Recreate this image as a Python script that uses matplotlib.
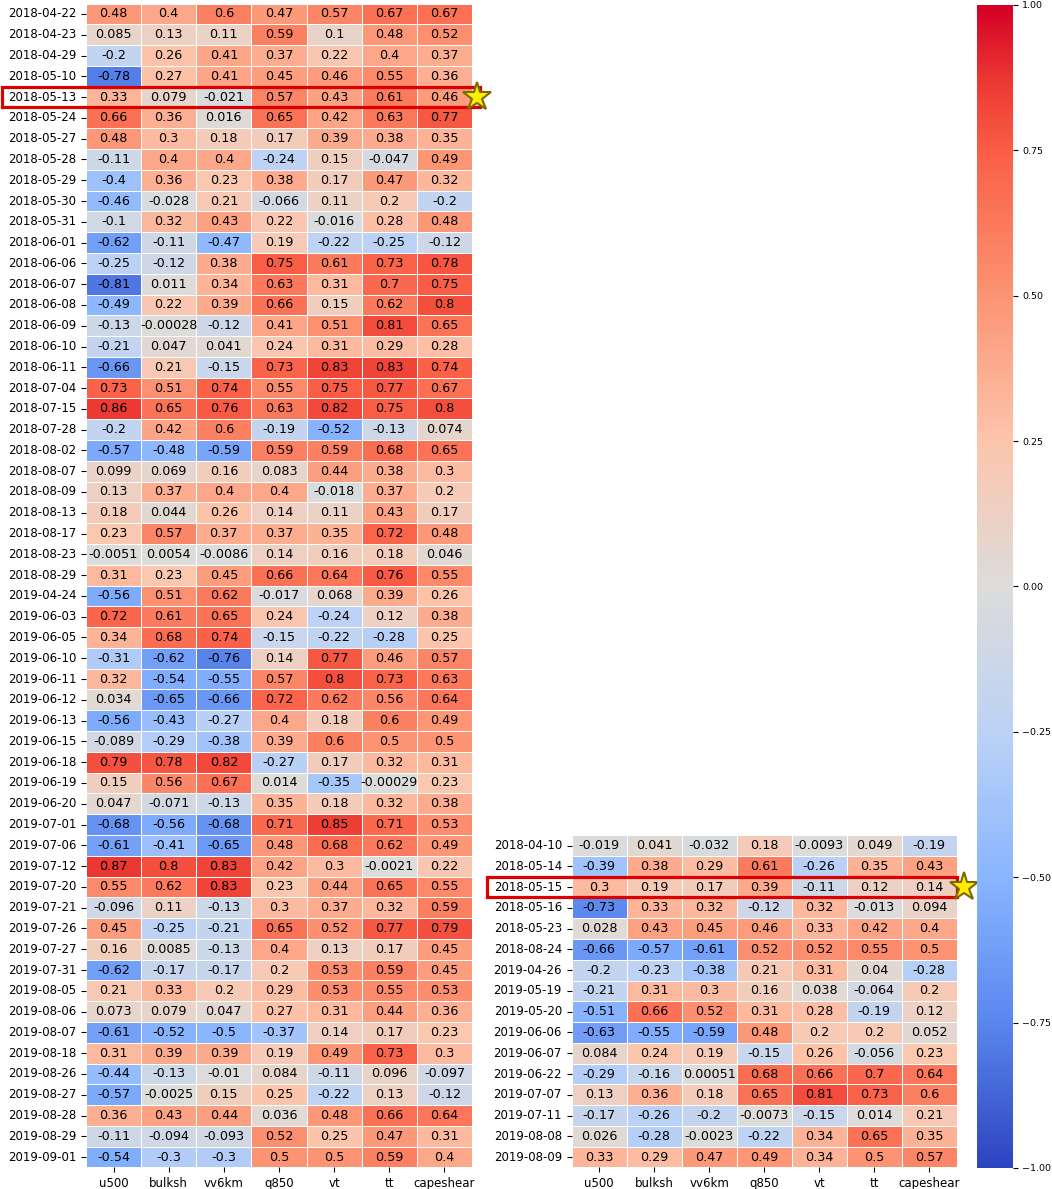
import numpy as np
import matplotlib
matplotlib.use('Agg')
import matplotlib.pyplot as plt
import matplotlib.transforms as mtrans
from matplotlib.patches import Rectangle
from matplotlib.colors import LinearSegmentedColormap
import seaborn as sns

cols = ['u500', 'bulksh', 'vv6km', 'q850', 'vt', 'tt', 'capeshear']

dates_a = ['2018-04-22', '2018-04-23', '2018-04-29', '2018-05-10', '2018-05-13', '2018-05-24',
           '2018-05-27', '2018-05-28', '2018-05-29', '2018-05-30', '2018-05-31', '2018-06-01',
           '2018-06-06', '2018-06-07', '2018-06-08', '2018-06-09', '2018-06-10', '2018-06-11',
           '2018-07-04', '2018-07-15', '2018-07-28', '2018-08-02', '2018-08-07', '2018-08-09',
           '2018-08-13', '2018-08-17', '2018-08-23', '2018-08-29', '2019-04-24', '2019-06-03',
           '2019-06-05', '2019-06-10', '2019-06-11', '2019-06-12', '2019-06-13', '2019-06-15',
           '2019-06-18', '2019-06-19', '2019-06-20', '2019-07-01', '2019-07-06', '2019-07-12',
           '2019-07-20', '2019-07-21', '2019-07-26', '2019-07-27', '2019-07-31', '2019-08-05',
           '2019-08-06', '2019-08-07', '2019-08-18', '2019-08-26', '2019-08-27', '2019-08-28',
           '2019-08-29', '2019-09-01']

corr_a = [
    [0.48, 0.4, 0.6, 0.47, 0.57, 0.67, 0.67],
    [0.085, 0.13, 0.11, 0.59, 0.1, 0.48, 0.52],
    [-0.2, 0.26, 0.41, 0.37, 0.22, 0.4, 0.37],
    [-0.78, 0.27, 0.41, 0.45, 0.46, 0.55, 0.36],
    [0.33, 0.079, -0.021, 0.57, 0.43, 0.61, 0.46],
    [0.66, 0.36, 0.016, 0.65, 0.42, 0.63, 0.77],
    [0.48, 0.3, 0.18, 0.17, 0.39, 0.38, 0.35],
    [-0.11, 0.4, 0.4, -0.24, 0.15, -0.047, 0.49],
    [-0.4, 0.36, 0.23, 0.38, 0.17, 0.47, 0.32],
    [-0.46, -0.028, 0.21, -0.066, 0.11, 0.2, -0.2],
    [-0.1, 0.32, 0.43, 0.22, -0.016, 0.28, 0.48],
    [-0.62, -0.11, -0.47, 0.19, -0.22, -0.25, -0.12],
    [-0.25, -0.12, 0.38, 0.75, 0.61, 0.73, 0.78],
    [-0.81, 0.011, 0.34, 0.63, 0.31, 0.7, 0.75],
    [-0.49, 0.22, 0.39, 0.66, 0.15, 0.62, 0.8],
    [-0.13, -0.00028, -0.12, 0.41, 0.51, 0.81, 0.65],
    [-0.21, 0.047, 0.041, 0.24, 0.31, 0.29, 0.28],
    [-0.66, 0.21, -0.15, 0.73, 0.83, 0.83, 0.74],
    [0.73, 0.51, 0.74, 0.55, 0.75, 0.77, 0.67],
    [0.86, 0.65, 0.76, 0.63, 0.82, 0.75, 0.8],
    [-0.2, 0.42, 0.6, -0.19, -0.52, -0.13, 0.074],
    [-0.57, -0.48, -0.59, 0.59, 0.59, 0.68, 0.65],
    [0.099, 0.069, 0.16, 0.083, 0.44, 0.38, 0.3],
    [0.13, 0.37, 0.4, 0.4, -0.018, 0.37, 0.2],
    [0.18, 0.044, 0.26, 0.14, 0.11, 0.43, 0.17],
    [0.23, 0.57, 0.37, 0.37, 0.35, 0.72, 0.48],
    [-0.0051, 0.0054, -0.0086, 0.14, 0.16, 0.18, 0.046],
    [0.31, 0.23, 0.45, 0.66, 0.64, 0.76, 0.55],
    [-0.56, 0.51, 0.62, -0.017, 0.068, 0.39, 0.26],
    [0.72, 0.61, 0.65, 0.24, -0.24, 0.12, 0.38],
    [0.34, 0.68, 0.74, -0.15, -0.22, -0.28, 0.25],
    [-0.31, -0.62, -0.76, 0.14, 0.77, 0.46, 0.57],
    [0.32, -0.54, -0.55, 0.57, 0.8, 0.73, 0.63],
    [0.034, -0.65, -0.66, 0.72, 0.62, 0.56, 0.64],
    [-0.56, -0.43, -0.27, 0.4, 0.18, 0.6, 0.49],
    [-0.089, -0.29, -0.38, 0.39, 0.6, 0.5, 0.5],
    [0.79, 0.78, 0.82, -0.27, 0.17, 0.32, 0.31],
    [0.15, 0.56, 0.67, 0.014, -0.35, -0.00029, 0.23],
    [0.047, -0.071, -0.13, 0.35, 0.18, 0.32, 0.38],
    [-0.68, -0.56, -0.68, 0.71, 0.85, 0.71, 0.53],
    [-0.61, -0.41, -0.65, 0.48, 0.68, 0.62, 0.49],
    [0.87, 0.8, 0.83, 0.42, 0.3, -0.0021, 0.22],
    [0.55, 0.62, 0.83, 0.23, 0.44, 0.65, 0.55],
    [-0.096, 0.11, -0.13, 0.3, 0.37, 0.32, 0.59],
    [0.45, -0.25, -0.21, 0.65, 0.52, 0.77, 0.79],
    [0.16, 0.0085, -0.13, 0.4, 0.13, 0.17, 0.45],
    [-0.62, -0.17, -0.17, 0.2, 0.53, 0.59, 0.45],
    [0.21, 0.33, 0.2, 0.29, 0.53, 0.55, 0.53],
    [0.073, 0.079, 0.047, 0.27, 0.31, 0.44, 0.36],
    [-0.61, -0.52, -0.5, -0.37, 0.14, 0.17, 0.23],
    [0.31, 0.39, 0.39, 0.19, 0.49, 0.73, 0.3],
    [-0.44, -0.13, -0.01, 0.084, -0.11, 0.096, -0.097],
    [-0.57, -0.0025, 0.15, 0.25, -0.22, 0.13, -0.12],
    [0.36, 0.43, 0.44, 0.036, 0.48, 0.66, 0.64],
    [-0.11, -0.094, -0.093, 0.52, 0.25, 0.47, 0.31],
    [-0.54, -0.3, -0.3, 0.5, 0.5, 0.59, 0.4],
]

dates_b = ['2018-04-10', '2018-05-14', '2018-05-15', '2018-05-16', '2018-05-23', '2018-08-24',
           '2019-04-26', '2019-05-19', '2019-05-20', '2019-06-06', '2019-06-07', '2019-06-22',
           '2019-07-07', '2019-07-11', '2019-08-08', '2019-08-09']

corr_b = [
    [-0.019, 0.041, -0.032, 0.18, -0.0093, 0.049, -0.19],
    [-0.39, 0.38, 0.29, 0.61, -0.26, 0.35, 0.43],
    [0.3, 0.19, 0.17, 0.39, -0.11, 0.12, 0.14],
    [-0.73, 0.33, 0.32, -0.12, 0.32, -0.013, 0.094],
    [0.028, 0.43, 0.45, 0.46, 0.33, 0.42, 0.4],
    [-0.66, -0.57, -0.61, 0.52, 0.52, 0.55, 0.5],
    [-0.2, -0.23, -0.38, 0.21, 0.31, 0.04, -0.28],
    [-0.21, 0.31, 0.3, 0.16, 0.038, -0.064, 0.2],
    [-0.51, 0.66, 0.52, 0.31, 0.28, -0.19, 0.12],
    [-0.63, -0.55, -0.59, 0.48, 0.2, 0.2, 0.052],
    [0.084, 0.24, 0.19, -0.15, 0.26, -0.056, 0.23],
    [-0.29, -0.16, 0.00051, 0.68, 0.66, 0.7, 0.64],
    [0.13, 0.36, 0.18, 0.65, 0.81, 0.73, 0.6],
    [-0.17, -0.26, -0.2, -0.0073, -0.15, 0.014, 0.21],
    [0.026, -0.28, -0.0023, -0.22, 0.34, 0.65, 0.35],
    [0.33, 0.29, 0.47, 0.49, 0.34, 0.5, 0.57],
]

# highlighted rows
mark_a = '2018-05-13'
mark_b = '2018-05-15'

cbar_ticks = [-1.0, -0.75, -0.5, -0.25, 0.0, 0.25, 0.5, 0.75, 1.0]

# coolwarm-like map, a bit more saturated (as in the picture)
cm_pos = [0.0, 0.125, 0.25, 0.375, 0.5, 0.625, 0.75, 0.875, 0.9375, 1.0]
cm_rgb = [(45, 68, 192), (90, 135, 238), (138, 182, 255), (188, 210, 245), (221, 220, 218),
          (252, 197, 172), (252, 148, 115), (250, 95, 70), (235, 55, 50), (213, 0, 38)]
cmap = LinearSegmentedColormap.from_list(
    'cw', [(p, tuple(c / 255 for c in rgb)) for p, rgb in zip(cm_pos, cm_rgb)])

fig = plt.figure(figsize=(10.52, 11.89), dpi=100)
ax1 = fig.add_axes([0.0817, 0.0181, 0.367, 0.9789])
ax2 = fig.add_axes([0.5434, 0.0181, 0.366, 0.2795])
cax = fig.add_axes([0.9284, 0.0177, 0.0342, 0.9781])

annot_kw = {'size': 9.2, 'color': 'black'}

sns.heatmap(np.array(corr_a), ax=ax1, cmap=cmap, vmin=-1, vmax=1, annot=True, fmt='.2g',
            annot_kws=annot_kw, linewidths=0.5, linecolor='white',
            xticklabels=cols, yticklabels=dates_a, cbar_ax=cax)
sns.heatmap(np.array(corr_b), ax=ax2, cmap=cmap, vmin=-1, vmax=1, annot=True, fmt='.2g',
            annot_kws=annot_kw, linewidths=0.5, linecolor='white',
            xticklabels=cols, yticklabels=dates_b, cbar=False)

for ax in (ax1, ax2):
    ax.tick_params(labelsize=8.5)
    plt.setp(ax.get_yticklabels(), rotation=0)
    plt.setp(ax.get_xticklabels(), rotation=0)

cax.set_yticks(cbar_ticks)
cax.set_yticklabels(['%.2f' % t if t >= 0 else '\u2212%.2f' % -t for t in cbar_ticks])
cax.tick_params(labelsize=6.8)


def highlight(ax, row, x0, x1, xs):
    tr = mtrans.blended_transform_factory(ax.transAxes, ax.transData)
    ax.add_patch(Rectangle((x0, row), x1 - x0, 1, transform=tr, fill=False,
                           edgecolor='#dd0000', linewidth=2.3, clip_on=False, zorder=5))
    ax.plot([xs], [row + 0.5], transform=tr, marker='*', markersize=21,
            markerfacecolor='#ffee00', markeredgecolor='#7a6a00', markeredgewidth=1.5,
            clip_on=False, zorder=6)


highlight(ax1, dates_a.index(mark_a), -0.218, 1.02, 1.013)
highlight(ax2, dates_b.index(mark_b), -0.22, 1.0008, 1.02)

fig.savefig('out.png', dpi=100)
